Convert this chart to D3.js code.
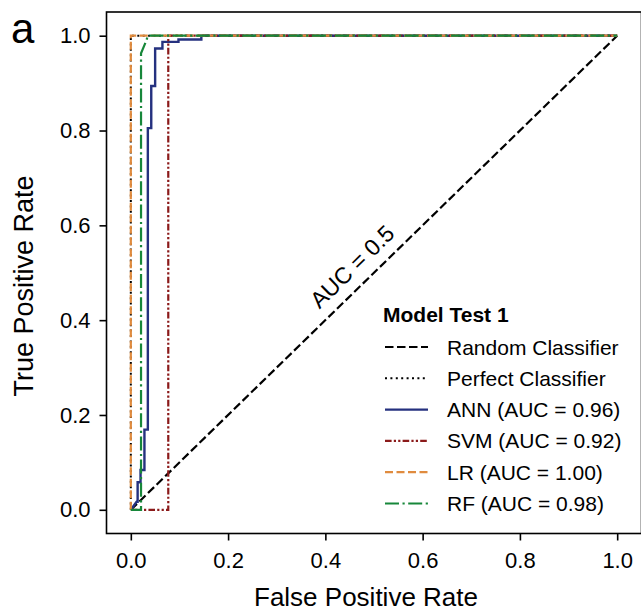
<!DOCTYPE html>
<html>
<head>
<meta charset="utf-8">
<script src="https://cdn.jsdelivr.net/npm/d3@7"></script>
<style>
  html, body { margin: 0; padding: 0; background: #fff; }
  svg { display: block; }
  text { font-family: "Liberation Sans", Arial, Helvetica, sans-serif; fill: #000; }
</style>
</head>
<body>
<svg id="chart" width="641" height="613"></svg>
<script>
// ---- data ----
const xTicks = [0.0, 0.2, 0.4, 0.6, 0.8, 1.0];
const yTicks = [0.0, 0.2, 0.4, 0.6, 0.8, 1.0];

const randomFpr = [0, 1];
const randomTpr = [0, 1];

const perfectFpr = [0, 0, 1];
const perfectTpr = [0, 1, 1];

const annFpr = [0, 0.012, 0.014, 0.014, 0.020, 0.020, 0.028, 0.028, 0.035, 0.035, 0.042, 0.042, 0.050, 0.050, 0.065, 0.065, 0.098, 0.098, 0.145, 0.145, 1.0];
const annTpr = [0, 0.017, 0.017, 0.058, 0.058, 0.084, 0.084, 0.169, 0.169, 0.805, 0.805, 0.894, 0.894, 0.973, 0.973, 0.987, 0.987, 0.992, 0.992, 1.0, 1.0];

const svmFpr = [0, 0.077, 0.077, 1.0];
const svmTpr = [0, 0, 1.0, 1.0];

const lrFpr = [0, 0, 1.0];
const lrTpr = [0, 1.0, 1.0];

const rfFpr = [0, 0.021, 0.021, 0.028, 0.032, 0.035, 1.0];
const rfTpr = [0, 0, 0.963, 0.980, 0.990, 1.0, 1.0];

const legendTitle = "Model Test 1";
const legendLabels = ["Random Classifier", "Perfect Classifier", "ANN (AUC = 0.96)", "SVM (AUC = 0.92)", "LR (AUC = 1.00)", "RF (AUC = 0.98)"];

// ---- styles ----
const series = [
  { fpr: randomFpr,  tpr: randomTpr,  color: "#000000", width: 2.2, dash: "8.5,3.5" },
  { fpr: perfectFpr, tpr: perfectTpr, color: "#000000", width: 2.0, dash: "2,3.4" },
  { fpr: annFpr,     tpr: annTpr,     color: "#25317f", width: 2.4, dash: null },
  { fpr: svmFpr,     tpr: svmTpr,     color: "#8b1a1a", width: 2.2, dash: "6.6,2.2,2.2,2.2,2.2,2.2" },
  { fpr: lrFpr,      tpr: lrTpr,      color: "#e08b3e", width: 2.2, dash: "8,3.5" },
  { fpr: rfFpr,      tpr: rfTpr,      color: "#17873a", width: 2.2, dash: "14,3.5,2.2,3.5" }
];

const svg = d3.select("#chart");
const x = d3.scaleLinear().domain([-0.05, 1.05]).range([106.5, 641.5]);
const y = d3.scaleLinear().domain([-0.05, 1.05]).range([533.5, 12]);

// curves
const line = d3.line().x(d => x(d[0])).y(d => y(d[1]));
series.forEach(s => {
  const pts = s.fpr.map((f, i) => [f, s.tpr[i]]);
  svg.append("path")
    .attr("d", line(pts))
    .attr("fill", "none")
    .attr("stroke", s.color)
    .attr("stroke-width", s.width)
    .attr("stroke-dasharray", s.dash)
    .attr("stroke-linejoin", "miter");
});

// frame
svg.append("rect")
  .attr("x", x(-0.05)).attr("y", y(1.05))
  .attr("width", x(1.05) - x(-0.05)).attr("height", y(-0.05) - y(1.05))
  .attr("fill", "none").attr("stroke", "#000").attr("stroke-width", 1.6);

// axes
const fmt = d3.format(".1f");
const xAxis = svg.append("g").attr("transform", `translate(0,${y(-0.05)})`)
  .call(d3.axisBottom(x).tickValues(xTicks).tickFormat(fmt).tickSize(7).tickPadding(12));
const yAxis = svg.append("g").attr("transform", `translate(${x(-0.05)},0)`)
  .call(d3.axisLeft(y).tickValues(yTicks).tickFormat(fmt).tickSize(7).tickPadding(9));
[xAxis, yAxis].forEach(g => {
  g.select(".domain").remove();
  g.selectAll(".tick line").attr("stroke", "#000").attr("stroke-width", 1.6);
  g.selectAll(".tick text").attr("font-size", 22).attr("font-family", "Liberation Sans, Arial, sans-serif").attr("fill", "#000");
});

// axis labels
svg.append("text").attr("x", 366).attr("y", 606).attr("text-anchor", "middle")
  .attr("font-size", 26).text("False Positive Rate");
svg.append("text").attr("transform", "translate(33,286) rotate(-90)").attr("text-anchor", "middle")
  .attr("font-size", 27).text("True Positive Rate");

// panel letter
svg.append("text").attr("x", 11).attr("y", 43).attr("font-size", 42).text("a");

// AUC = 0.5 annotation along the diagonal
const ang = Math.atan2(y(1) - y(0), x(1) - x(0)) * 180 / Math.PI;
svg.append("text")
  .attr("transform", `translate(${x(0.458)},${y(0.51)}) rotate(${ang})`)
  .attr("text-anchor", "middle").attr("dominant-baseline", "middle")
  .attr("font-size", 23).text("AUC = 0.5");

// legend
const lg = svg.append("g");
lg.append("text").attr("x", 383).attr("y", 322).attr("font-size", 21)
  .attr("font-weight", "bold").text(legendTitle);
const rowY0 = 347, rowStep = 31.3;
legendLabels.forEach((lab, i) => {
  const s = series[i];
  const cy = rowY0 + i * rowStep;
  lg.append("line").attr("x1", 385).attr("x2", 428).attr("y1", cy).attr("y2", cy)
    .attr("stroke", s.color).attr("stroke-width", s.width).attr("stroke-dasharray", s.dash);
  lg.append("text").attr("x", 447).attr("y", cy + 7.5).attr("font-size", 21).text(lab);
});
</script>
</body>
</html>
